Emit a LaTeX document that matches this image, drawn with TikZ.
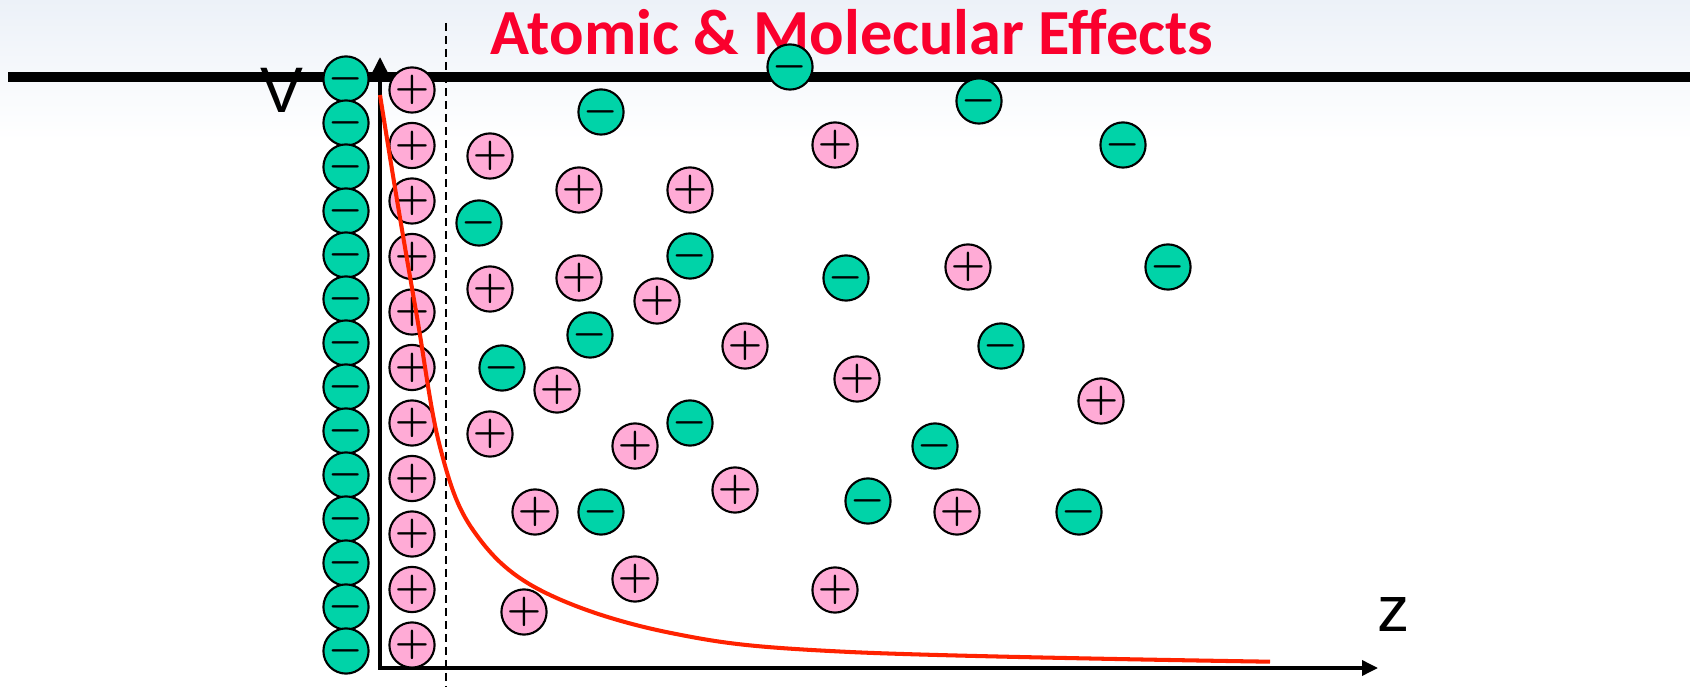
\documentclass[tikz,border=0pt]{standalone}
\usepackage[no-math]{fontspec}
\setmainfont{Liberation Sans}
\newfontfamily\titlefont{Carlito}
\usetikzlibrary{arrows.meta}
\definecolor{iongreen}{RGB}{0,211,168}
\definecolor{ionpink}{RGB}{255,171,214}
\definecolor{titlered}{RGB}{250,0,45}
\definecolor{curvered}{RGB}{255,34,0}
\definecolor{headgray}{RGB}{236,241,248}
\tikzset{
    ion/.style={circle, draw=black, line width=0.6pt, minimum size=4.4mm,
        inner sep=0pt, font=\fontsize{10.5}{10.5}\selectfont\boldmath},
    negion/.style={ion, fill=iongreen},
    posion/.style={ion, fill=ionpink},
    plate/.style={line width=1mm, draw=black},
    boundary/.style={line width=0.45pt, dash pattern=on 0.8mm off 0.5mm},
    axis/.style={line width=1pt,
        {Triangle[width=1.5mm,length=1.6mm]}-{Triangle[width=1.5mm,length=1.6mm]}},
    potential/.style={line width=1.15pt, draw=curvered},
    axislabel/.style={inner sep=0pt, font=\fontsize{18.3}{20}\selectfont},
    headline/.style={inner sep=0pt, text=titlered,
        font=\titlefont\bfseries\fontsize{18.3}{20}\selectfont},
}
\begin{document}
\begin{tikzpicture}[x=0.1mm, y=-0.1mm]
    \useasboundingbox (0,0) rectangle (1690,687);
    \fill[top color=headgray, bottom color=white] (0,0) rectangle (1690,140);
    \node[headline, anchor=base] (title) at (852,55) {Atomic \& Molecular Effects};
    \draw[plate] (8,77) -- (1690,77);
    \draw[boundary] (446,23) -- (446,687);
    \coordinate (origin) at (380,668);
    \coordinate (vtip) at (380,57);
    \coordinate (ztip) at (1378,668);
    \draw[axis] (vtip) |- (ztip);
    \node[axislabel] (vlabel) at (282,90) {V};
    \node[axislabel] (zlabel) at (1394,615) {z};
    \foreach \i in {0,...,13}
        \node[negion] (wallneg\i) at (346,79+44*\i) {$-$};
    \foreach \i in {0,...,10}
        \node[posion] (wallpos\i) at (412,90+55.5*\i) {$+$};
    \foreach \x/\y [count=\i] in {790/67, 601/112, 979/101, 1123/145, 479/223,
        690/256, 846/278, 1168/267, 590/335, 502/368, 1001/346, 690/423,
        935/446, 601/512, 868/501, 1079/512}
        \node[negion] (neg\i) at (\x,\y) {$-$};
    \foreach \x/\y [count=\i] in {490/156, 835/145, 579/190, 690/190, 490/289,
        579/278, 657/301, 968/267, 745/346, 557/390, 857/379, 1101/401,
        490/434, 635/446, 735/490, 535/512, 957/512, 635/579, 835/590, 524/612}
        \node[posion] (pos\i) at (\x,\y) {$+$};
    \draw[potential] plot[smooth, tension=0.6] coordinates {(380,95) (397,200)
        (417,317) (440,447) (473,530) (540,590) (671,633) (850,652)
        (1270,661.7)};
\end{tikzpicture}
\end{document}
